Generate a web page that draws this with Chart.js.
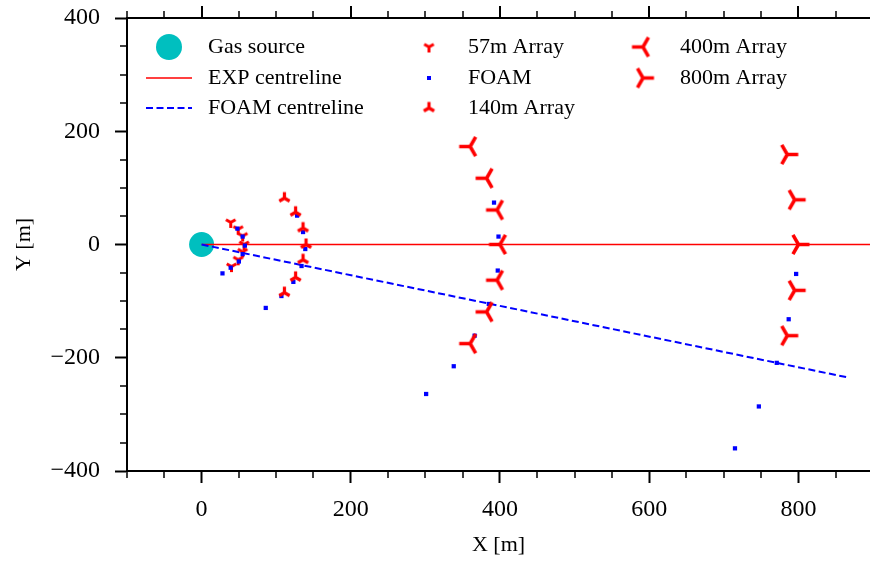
<!DOCTYPE html>
<html>
<head>
<meta charset="utf-8">
<script src="https://cdn.jsdelivr.net/npm/chart.js@4.4.0/dist/chart.umd.min.js"></script>
<style>
  html, body { margin: 0; padding: 0; background: #fff; }
</style>
</head>
<body>
<canvas id="plume" width="870" height="561"></canvas>
<script>
// sensor layout and plume centrelines, metres from the gas source
const sourcePoint = [[0, 0]];
const expCentreline = [[0, 0], [900, 0]];
const foamCentreline = [[0, 0], [867, -235]];
const array57 = [[39, 39], [49, 27], [55, 15], [57, 0], [55, -13], [49, -27], [40, -39]];
const array140 = [[111, 82], [126, 57], [136, 29], [140, 0], [136, -27], [126, -58], [111, -85]];
const array400 = [[360, 173], [382, 117], [396, 61], [400, 0], [396, -63], [382, -119], [360, -175]];
const array800 = [[785, 159], [795, 79], [800, 0], [795, -81], [785, -161]];
const foamPoints = [
  [48, 28], [55, 14], [58, -2], [55, -17], [50, -30], [39, -41], [28, -51],
  [128, 51], [136, 22], [139, -8], [134, -38], [123, -66], [107, -91], [86, -112],
  [392, 74], [398, 14], [397, -46], [385, -105], [366, -161], [338, -215], [301, -264],
  [797, -52], [787, -132], [771, -209], [747, -286], [715, -360]
];
const xTicks = [0, 200, 400, 600, 800];
const yTicks = [-400, -200, 0, 200, 400];

const FONT = "'Liberation Serif', 'Times New Roman', serif";
const toXY = pts => pts.map(([x, y]) => ({ x, y }));

// matplotlib-style tri markers drawn once into small canvases
function triMarker(dir, arm, lw) {
  const size = Math.ceil(2 * (arm + lw)) + 2;
  const c = document.createElement('canvas');
  c.width = size;
  c.height = size;
  const g = c.getContext('2d');
  const arms = {
    down: [[0, 1], [-0.866, -0.5], [0.866, -0.5]],
    up: [[0, -1], [-0.866, 0.5], [0.866, 0.5]],
    left: [[-1, 0], [0.5, -0.866], [0.5, 0.866]],
    right: [[1, 0], [-0.5, -0.866], [-0.5, 0.866]]
  };
  const m = size / 2;
  g.strokeStyle = '#ff0000';
  g.lineWidth = lw;
  g.lineCap = 'butt';
  g.beginPath();
  arms[dir].forEach(([dx, dy]) => {
    g.moveTo(m, m);
    g.lineTo(m + dx * arm, m + dy * arm);
  });
  g.stroke();
  return c;
}

const tri57 = triMarker('down', 5.5, 3);
const tri140 = triMarker('up', 6, 3.2);
const tri400 = triMarker('left', 11, 3.5);
const tri800 = triMarker('right', 11, 3.5);

const datasets = [
  { label: 'Gas source', data: toXY(sourcePoint), pointStyle: 'circle', pointRadius: 12.5,
    backgroundColor: '#00bfbf', borderWidth: 0, order: 8 },
  { label: 'EXP centreline', data: toXY(expCentreline), showLine: true, pointRadius: 0,
    borderColor: '#ff0000', borderWidth: 1.5, order: 7 },
  { label: 'FOAM centreline', data: toXY(foamCentreline), showLine: true, pointRadius: 0,
    borderColor: '#0000ff', borderWidth: 2, borderDash: [7, 3.5], order: 6 },
  { label: '57m Array', data: toXY(array57), pointStyle: tri57, pointRadius: 5, order: 5 },
  { label: 'FOAM', data: toXY(foamPoints), pointStyle: 'rect', pointRadius: 3,
    backgroundColor: '#0000ff', borderWidth: 0, order: 4 },
  { label: '140m Array', data: toXY(array140), pointStyle: tri140, pointRadius: 5, order: 3 },
  { label: '400m Array', data: toXY(array400), pointStyle: tri400, pointRadius: 5, order: 2 },
  { label: '800m Array', data: toXY(array800), pointStyle: tri800, pointRadius: 5, order: 1 }
];

// minor ticks on both axes plus the tick-only top spine
const spineTicks = {
  id: 'spineTicks',
  afterDraw(chart) {
    const { ctx, chartArea: a, scales: { x, y } } = chart;
    ctx.save();
    ctx.strokeStyle = '#000';
    ctx.lineWidth = 2;
    ctx.beginPath();
    ctx.moveTo(a.left - 1, a.top);
    ctx.lineTo(a.right, a.top);
    ctx.stroke();
    for (let v = -100; v <= x.max; v += 50) {
      const px = Math.round(x.getPixelForValue(v));
      const major = v % 200 === 0;
      const len = major ? 12 : 7;
      ctx.lineWidth = major ? 2 : 1.5;
      ctx.beginPath();
      ctx.moveTo(px, a.top);
      ctx.lineTo(px, a.top - len);
      if (!major) {
        ctx.moveTo(px, a.bottom);
        ctx.lineTo(px, a.bottom + len);
      }
      ctx.stroke();
    }
    ctx.lineWidth = 1.5;
    for (let v = -350; v < 400; v += 50) {
      if (v % 200 === 0) continue;
      const py = Math.round(y.getPixelForValue(v));
      ctx.beginPath();
      ctx.moveTo(a.left, py);
      ctx.lineTo(a.left - 7, py);
      ctx.stroke();
    }
    ctx.restore();
  }
};

// three-column legend inside the plot, filled column by column
const legendSlots = [
  [0, 0, 0], [1, 0, 1], [2, 0, 2],
  [3, 1, 0], [4, 1, 1], [5, 1, 2],
  [6, 2, 0], [7, 2, 1]
];
const legendCols = [{ mark: 169, text: 208 }, { mark: 429, text: 468 }, { mark: 643, text: 680 }];
const legendRows = [47, 78, 108];

const plotLegend = {
  id: 'plotLegend',
  afterDraw(chart) {
    const ctx = chart.ctx;
    ctx.save();
    ctx.font = '22px ' + FONT;
    ctx.textBaseline = 'middle';
    ctx.fillStyle = '#000';
    legendSlots.forEach(([i, col, row]) => {
      const ds = chart.data.datasets[i];
      const cx = legendCols[col].mark;
      const cy = legendRows[row];
      if (ds.showLine) {
        ctx.save();
        ctx.strokeStyle = ds.borderColor;
        ctx.lineWidth = ds.borderWidth;
        ctx.setLineDash(ds.borderDash || []);
        ctx.beginPath();
        ctx.moveTo(cx - 23, cy);
        ctx.lineTo(cx + 23, cy);
        ctx.stroke();
        ctx.restore();
      } else if (ds.pointStyle === 'circle') {
        ctx.save();
        ctx.fillStyle = ds.backgroundColor;
        ctx.beginPath();
        ctx.arc(cx, cy, 13, 0, Math.PI * 2);
        ctx.fill();
        ctx.restore();
      } else if (ds.pointStyle === 'rect') {
        ctx.save();
        ctx.fillStyle = ds.backgroundColor;
        ctx.fillRect(cx - 2, cy - 2, 4, 4);
        ctx.restore();
      } else {
        const img = ds.pointStyle;
        ctx.drawImage(img, cx - img.width / 2, cy - img.height / 2);
      }
      ctx.fillStyle = '#000';
      ctx.fillText(ds.label, legendCols[col].text, cy);
    });
    ctx.restore();
  }
};

const minusSign = v => String(v).replace('-', '\u2212');

new Chart(document.getElementById('plume'), {
  type: 'scatter',
  data: { datasets },
  options: {
    responsive: false,
    animation: false,
    events: [],
    layout: { autoPadding: false, padding: { top: 18, right: 0, bottom: 0, left: 0 } },
    plugins: { legend: { display: false }, tooltip: { enabled: false } },
    scales: {
      x: {
        type: 'linear',
        min: -100,
        max: 896,
        afterBuildTicks: s => { s.ticks = xTicks.map(v => ({ value: v })); },
        afterFit: s => {
          s.height = 90;
          s.paddingLeft = 0;
          s.paddingRight = 0;
        },
        border: { color: '#000', width: 2 },
        grid: { drawOnChartArea: false, tickLength: 12, tickWidth: 2, tickColor: '#000' },
        ticks: { font: { family: FONT, size: 24 }, color: '#000', padding: 12, maxRotation: 0,
          callback: minusSign },
        title: { display: true, text: 'X [m]', color: '#000', font: { family: FONT, size: 22 },
          padding: { top: 0, bottom: 3 } }
      },
      y: {
        type: 'linear',
        min: -400,
        max: 400,
        afterBuildTicks: s => { s.ticks = yTicks.map(v => ({ value: v })); },
        afterFit: s => {
          s.width = 127;
          s.paddingTop = 0;
          s.paddingBottom = 0;
        },
        border: { color: '#000', width: 2 },
        grid: { drawOnChartArea: false, tickLength: 12, tickWidth: 2, tickColor: '#000' },
        ticks: { font: { family: FONT, size: 24 }, color: '#000', padding: 15,
          callback: minusSign },
        title: { display: true, text: 'Y [m]', color: '#000', font: { family: FONT, size: 22 },
          padding: { top: 11, bottom: 0 } }
      }
    }
  },
  plugins: [spineTicks, plotLegend]
});
</script>
</body>
</html>
